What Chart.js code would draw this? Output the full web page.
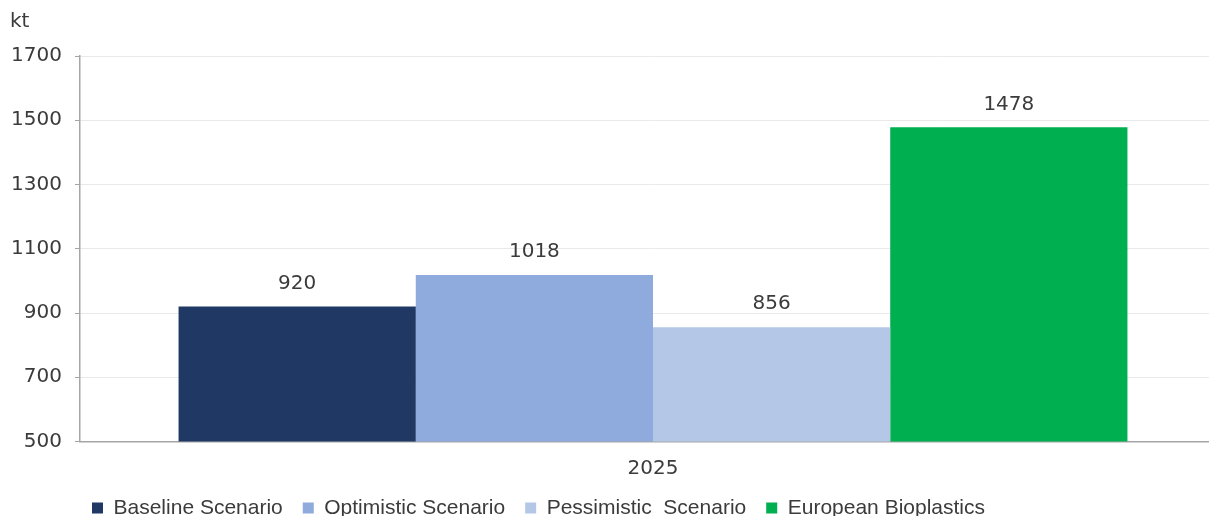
<!DOCTYPE html>
<html>
<head>
<meta charset="utf-8">
<script src="https://cdn.jsdelivr.net/npm/chart.js@4/dist/chart.umd.min.js"></script>
<style>
  html, body { margin: 0; padding: 0; background: #fff; overflow: hidden; }
  #wrap { width: 1226px; height: 516px; }
</style>
</head>
<body>
<div id="wrap"><canvas id="chart"></canvas></div>
<script>
// values
const categories = ["2025"];
const seriesNames = ["Baseline Scenario", "Optimistic Scenario", "Pessimistic  Scenario", "European Bioplastics"];
const seriesValues = [[920], [1018], [856], [1478]];
const seriesColors = ["#1f3864", "#8faadc", "#b4c7e7", "#00b050"];
const yTicks = [500, 700, 900, 1100, 1300, 1500, 1700];
const unitLabel = "kt";

const NUM_FONT = "'DejaVu Sans', sans-serif";
const TXT_FONT = "'Liberation Sans', Arial, sans-serif";
const TEXT = "#3b3b3b";
const LEGEND_PAD = 20;

// value labels above each bar
const barLabels = {
    id: "barLabels",
    afterDatasetsDraw(chart) {
        const ctx = chart.ctx;
        ctx.save();
        ctx.font = "20px " + NUM_FONT;
        ctx.fillStyle = TEXT;
        ctx.textAlign = "center";
        ctx.textBaseline = "middle";
        chart.data.datasets.forEach((ds, i) => {
            chart.getDatasetMeta(i).data.forEach((bar, j) => {
                ctx.fillText(String(ds.data[j]), bar.x, bar.y - 23);
            });
        });
        ctx.restore();
    }
};

// the legend in the picture starts at x=92 and sits at the bottom edge
const legendShift = {
    id: "legendShift",
    afterLayout(chart) {
        const lg = chart.legend;
        if (!lg) return;
        const d = 92 - (lg.left + LEGEND_PAD);
        lg.left += d;
        lg.right += d;
        lg.top -= 18;
        lg.bottom -= 18;
    }
};

new Chart(document.getElementById("chart"), {
    type: "bar",
    data: {
        labels: categories,
        datasets: seriesNames.map((name, i) => ({
            label: name,
            data: seriesValues[i],
            backgroundColor: seriesColors[i],
            borderWidth: 0,
            barPercentage: 1,
            categoryPercentage: 0.828,
        })),
    },
    options: {
        responsive: true,
        maintainAspectRatio: false,
        animation: false,
        layout: { padding: { left: 10, right: 0, top: 0, bottom: -30.5 } },
        plugins: {
            title: {
                display: true,
                text: unitLabel,
                align: "start",
                color: TEXT,
                font: { family: NUM_FONT, size: 20, weight: "normal", lineHeight: 1.2 },
                padding: { top: 10, bottom: 22 },
            },
            legend: {
                position: "bottom",
                align: "start",
                labels: {
                    color: TEXT,
                    font: { family: TXT_FONT, size: 21 },
                    boxWidth: 11,
                    boxHeight: 11,
                    padding: LEGEND_PAD,
                },
            },
            tooltip: { enabled: false },
        },
        scales: {
            x: {
                grid: { display: false, drawTicks: false, tickLength: 0 },
                border: { display: true, color: "#a6a6a6", width: 1.5 },
                ticks: { color: TEXT, font: { family: NUM_FONT, size: 20, lineHeight: 1.0 }, padding: 17 },
            },
            y: {
                min: 500,
                max: 1700,
                afterBuildTicks(axis) {
                    axis.ticks = yTicks.map(v => ({ value: v }));
                },
                afterFit(axis) {
                    axis.width = 70;
                },
                grid: { color: "#e9e9e9", tickLength: 5, tickColor: "#a6a6a6" },
                border: { display: true, color: "#a6a6a6", width: 1.5 },
                ticks: {
                    color: TEXT,
                    font: { family: NUM_FONT, size: 20 },
                    padding: 13,
                    callback: v => String(v),
                },
            },
        },
    },
    plugins: [barLabels, legendShift],
});
</script>
</body>
</html>
